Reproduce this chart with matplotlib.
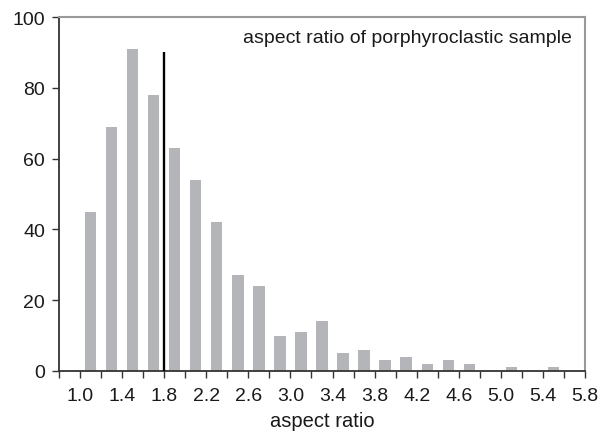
import matplotlib
matplotlib.use("Agg")
import matplotlib.pyplot as plt
import numpy as np

plt.rcParams['font.family'] = ['Liberation Sans', 'DejaVu Sans']

bin_centers = [1.1, 1.3, 1.5, 1.7, 1.9, 2.1, 2.3, 2.5, 2.7, 2.9, 3.1, 3.3,
               3.5, 3.7, 3.9, 4.1, 4.3, 4.5, 4.7, 4.9, 5.1, 5.3, 5.5, 5.7]
counts = [45, 69, 91, 78, 63, 54, 42, 27, 24, 10, 11, 14,
          5, 6, 3, 4, 2, 3, 2, 0, 1, 0, 1, 0]
mean_ratio = 1.8
mean_line_top = 90
tick_labels = ['1.0', '1.4', '1.8', '2.2', '2.6', '3.0', '3.4', '3.8',
               '4.2', '4.6', '5.0', '5.4', '5.8']

fig = plt.figure(figsize=(6.12, 4.35), dpi=100)
ax = fig.add_axes([59/612, 63/435, 526/612, 354/435])

ax.bar(bin_centers, counts, width=0.108, color='#b4b5b9', zorder=2)
ax.vlines(mean_ratio, 0, mean_line_top, color='black', linewidth=1.7, zorder=3)

ax.set_xlim(0.8, 5.8)
ax.set_ylim(0, 100)

ticks = np.round(np.arange(0.8, 5.81, 0.2), 2)
ax.set_xticks(ticks)
ax.set_xticklabels([f"{t:.1f}" if f"{t:.1f}" in tick_labels else '' for t in ticks])
ax.set_yticks([0, 20, 40, 60, 80, 100])

ax.tick_params(axis='both', direction='out', length=5, width=1, color='#333333',
               labelsize=14, labelcolor='#1a1a1a')
ax.tick_params(axis='x', pad=6.5)
ax.tick_params(axis='y', pad=5)

for s in ['top', 'right']:
    ax.spines[s].set_color('#999999')
    ax.spines[s].set_linewidth(1.5)
for s in ['left', 'bottom']:
    ax.spines[s].set_color('#333333')
    ax.spines[s].set_linewidth(1.3)

ax.set_xlabel('aspect ratio', fontsize=14.5, color='#1a1a1a', labelpad=5)
ax.text(0.975, 0.965, 'aspect ratio of porphyroclastic sample', transform=ax.transAxes,
        ha='right', va='top', fontsize=14, color='#1a1a1a')

fig.savefig('out.png', dpi=100)
